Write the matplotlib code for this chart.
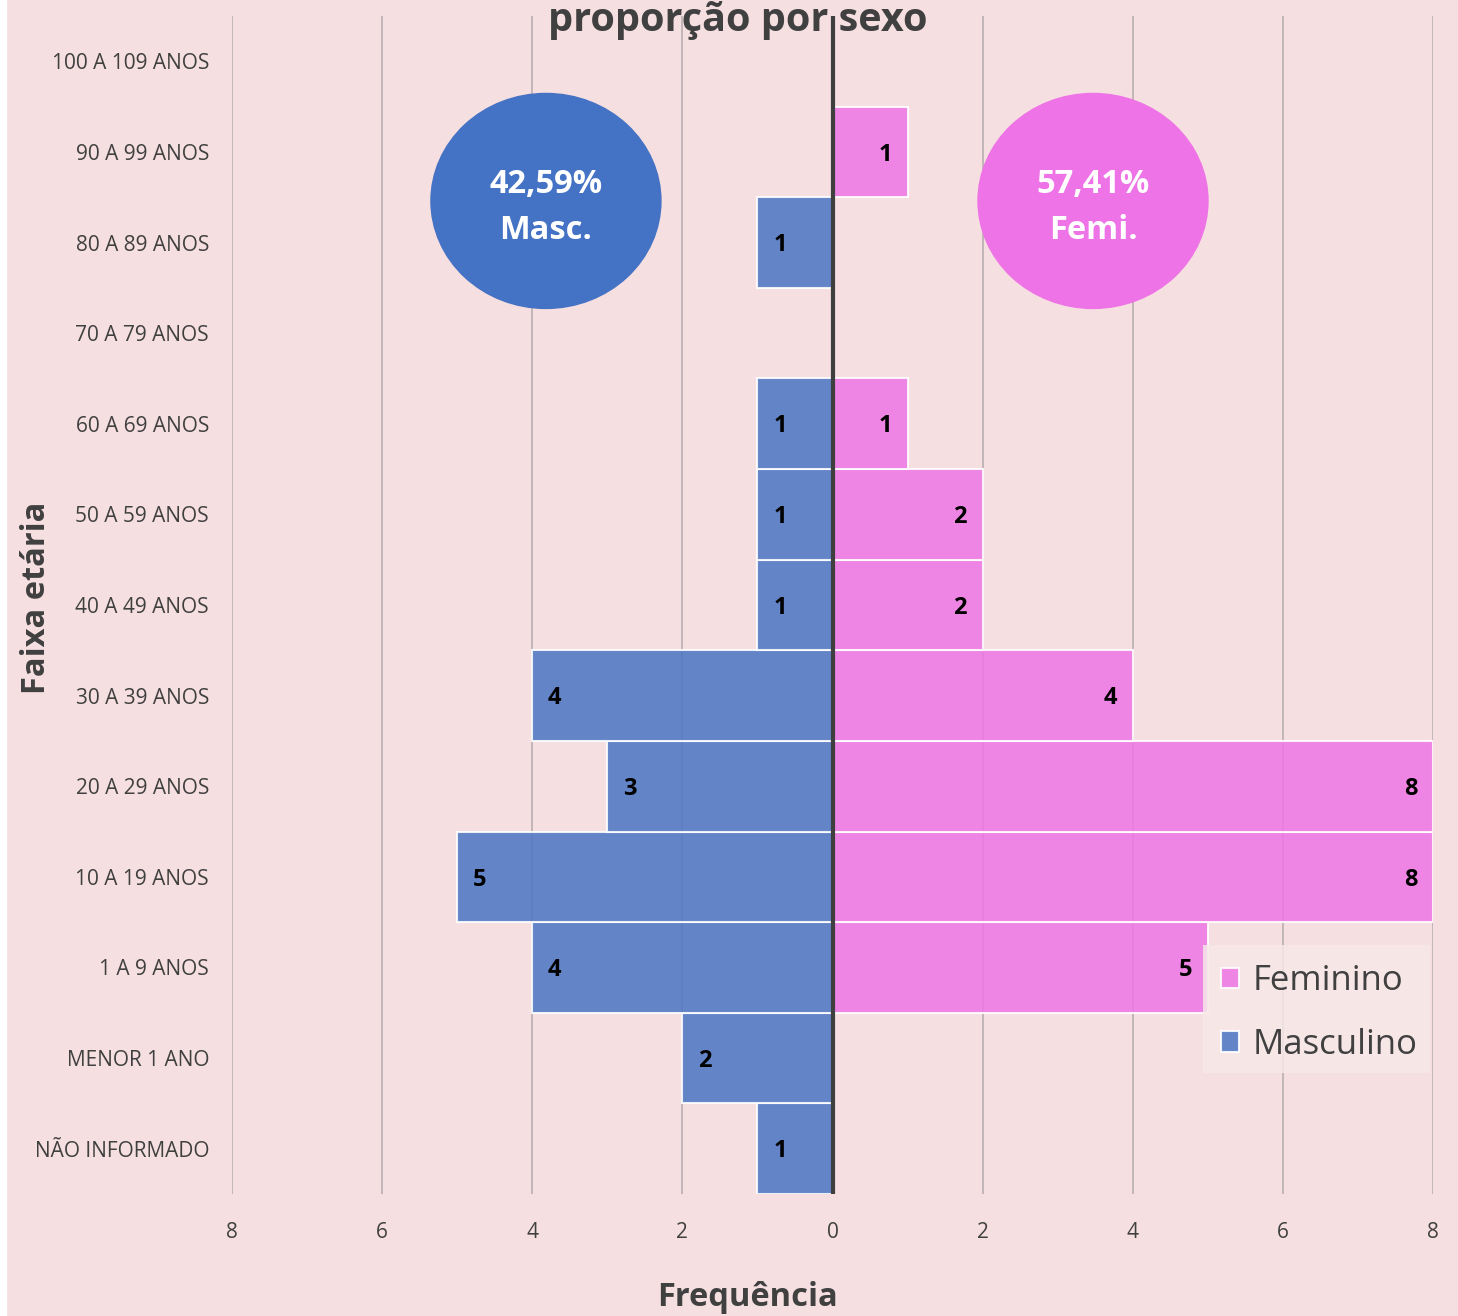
import matplotlib
matplotlib.use("Agg")
import matplotlib.pyplot as plt
from matplotlib.patches import Ellipse, Rectangle
import numpy as np

categories = ["NÃO INFORMADO", "MENOR 1 ANO", "1 A 9 ANOS", "10 A 19 ANOS", "20 A 29 ANOS",
              "30 A 39 ANOS", "40 A 49 ANOS", "50 A 59 ANOS", "60 A 69 ANOS", "70 A 79 ANOS",
              "80 A 89 ANOS", "90 A 99 ANOS", "100 A 109 ANOS"]
masculino = [1, 2, 4, 5, 3, 4, 1, 1, 1, 0, 1, 0, 0]
feminino = [0, 0, 5, 8, 8, 4, 2, 2, 1, 0, 0, 1, 0]
x_ticks = [-8, -6, -4, -2, 0, 2, 4, 6, 8]
x_tick_labels = ["8", "6", "4", "2", "0", "2", "4", "6", "8"]
pct_masc = "42,59%\nMasc."
pct_fem = "57,41%\nFemi."

plt.rcParams['font.family'] = ['Open Sans', 'DejaVu Sans']

BG = "#f6dfe0"
TXT = "#404040"
BLUE_BAR = "#4f78c4"
PINK_BAR = "#ee78e4"

fig = plt.figure(figsize=(14.58, 13.16), dpi=100, facecolor=BG)
fig.patches.append(Rectangle((0, 0), 6/1458, 1, transform=fig.transFigure, color="white", zorder=0))

ax = fig.add_axes([232/1458, 1-1194/1316, 1201/1458, 1178/1316])
ax.set_facecolor(BG)
y = np.arange(len(categories))

for xt in x_ticks:
    if xt != 0:
        ax.axvline(xt, color="#b9aeb0", lw=1.2, zorder=1)

m = -np.array(masculino, dtype=float)
f = np.array(feminino, dtype=float)
ax.barh(y, m, height=1.0, color=BLUE_BAR, alpha=0.88, edgecolor=(1, 1, 1, 0.45), lw=1.5, zorder=2, label="Masculino")
ax.barh(y, f, height=1.0, color=PINK_BAR, alpha=0.88, edgecolor=(1, 1, 1, 0.45), lw=1.5, zorder=2, label="Feminino")

for yi, v in zip(y, masculino):
    if v > 0:
        ax.text(-v + 0.3, yi - 0.03, str(v), ha="center", va="center", fontsize=17, fontweight="bold", color="black", zorder=4)
for yi, v in zip(y, feminino):
    if v > 0:
        ax.text(v - 0.3, yi - 0.03, str(v), ha="center", va="center", fontsize=17, fontweight="bold", color="black", zorder=4)

ax.axvline(0, color="#3f3f3f", lw=3, zorder=3)

ax.set_xlim(-8, 8)
ax.set_ylim(-0.5, len(categories) - 0.5)
ax.set_xticks(x_ticks)
ax.set_xticklabels(x_tick_labels)
ax.set_yticks(y)
ax.set_yticklabels(categories)
ax.tick_params(axis="both", length=0, labelsize=15, colors=TXT)
ax.tick_params(axis="x", pad=20)
ax.tick_params(axis="y", pad=16.5)
for s in ax.spines.values():
    s.set_visible(False)

# ellipses
e1 = Ellipse((0.2614, 0.843), 0.1915, 0.1825, transform=ax.transAxes, color="#4472c4", zorder=5)
e2 = Ellipse((0.7169, 0.843), 0.1915, 0.1825, transform=ax.transAxes, color="#ee73e6", zorder=5)
ax.add_patch(e1)
ax.add_patch(e2)
ax.text(0.2614, 0.8375, pct_masc, transform=ax.transAxes, ha="center", va="center", color="white",
        fontsize=23.5, fontweight="bold", zorder=6, linespacing=1.55)
ax.text(0.7169, 0.8375, pct_fem, transform=ax.transAxes, ha="center", va="center", color="white",
        fontsize=23.5, fontweight="bold", zorder=6, linespacing=1.55)

# title, labels
fig.text(738/1458, 1-31/1316, "proporção por sexo", ha="center", va="baseline", fontsize=28.5,
         fontweight="bold", color=TXT)
fig.text(748/1458, 1-1297/1316, "Frequência", ha="center", va="center", fontsize=23.5,
         fontweight="bold", color=TXT)
fig.text(37/1458, 1-598/1316, "Faixa etária", ha="center", va="center", fontsize=23.5,
         fontweight="bold", color=TXT, rotation=90)

# legend background box
fig.patches.append(Rectangle((1203/1458, 1-1073/1316), 227/1458, 128/1316, transform=fig.transFigure,
                             facecolor="#f6e8e8", alpha=0.85, edgecolor="none", zorder=6))
handles, labels = ax.get_legend_handles_labels()
leg = fig.legend(handles[::-1], labels[::-1], loc="center left", bbox_to_anchor=(1221/1458, 1-1013/1316),
                 bbox_transform=fig.transFigure, fontsize=25, frameon=False,
                 handlelength=0.52, handleheight=0.52, handletextpad=0.38, labelspacing=0.85,
                 borderpad=0, borderaxespad=0, labelcolor=TXT)
leg.set_zorder(7)

fig.savefig("out.png", dpi=100, facecolor=BG)
